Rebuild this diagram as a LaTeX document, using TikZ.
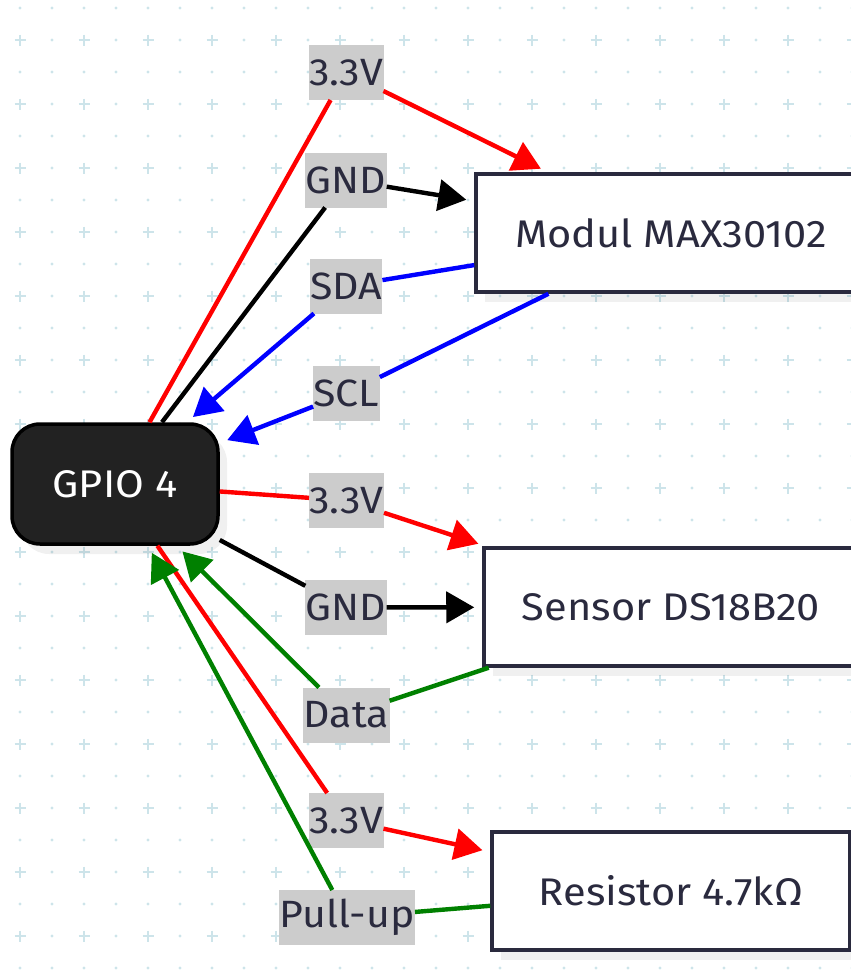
\documentclass[tikz,border=0pt]{standalone}
\usepackage{fontspec}
\setmainfont[FakeStretch=1.08]{Fira Sans}
\usetikzlibrary{arrows.meta,shadows}
\definecolor{gridc}{RGB}{205,228,234}
\definecolor{navy}{RGB}{42,42,62}
\definecolor{lblgray}{RGB}{204,204,204}
\definecolor{gpiofill}{RGB}{34,34,34}
\definecolor{wgreen}{RGB}{0,128,0}
\tikzset{
  sh/.style={drop shadow={shadow xshift=9pt,shadow yshift=-10pt,fill=black,opacity=0.06}},
  box/.style={draw=navy,line width=3.5pt,fill=white,minimum height=118pt,text=navy,
    font=\fontsize{38.5}{42}\selectfont,sh},
  gpiobox/.style={draw=black,line width=3.5pt,fill=gpiofill,rounded corners=28pt,
    minimum width=206pt,minimum height=120pt,text=white,font=\fontsize{38.5}{42}\selectfont,sh},
  lbl/.style={fill=lblgray,text=navy,inner xsep=0.5pt,inner ysep=0pt,minimum height=55pt,
    outer sep=0pt,font=\fontsize{38}{42}\selectfont},
  wire/.style={line width=4.4pt},
  arr/.style={-{Triangle[length=28pt,width=31pt]},shorten >=8pt}
}
\begin{document}
\begin{tikzpicture}[x=1pt,y=-1pt]
\useasboundingbox (0,0) rectangle (851,970);
% background grid
\foreach \i in {0,...,26}{
  \foreach \j in {0,...,30}{
    \fill[gridc] ({20+32*\i},{8+32*\j}) circle (1.6pt);
  }
}
\foreach \i in {0,...,13}{
  \foreach \j in {0,...,14}{
    \draw[gridc,line width=2.2pt] ({20+64*\i-5.5},{40+64*\j}) -- ({20+64*\i+5.5},{40+64*\j});
    \draw[gridc,line width=2.2pt] ({20+64*\i},{40+64*\j-5.5}) -- ({20+64*\i},{40+64*\j+5.5});
  }
}
% main nodes
\node[gpiobox] (gpio) at (115,484) {GPIO 4};
\node[box,minimum width=390pt] (max) at (671,233) {Modul MAX30102};
\node[box,minimum width=374pt] (sensor) at (671,607) {Sensor DS18B20};
\node[box,minimum width=358pt] (res) at (671,891) {Resistor 4.7kΩ};
% labels
\node[lbl] (l1) at (346,72.5) {3.3V};
\node[lbl] (l2) at (346,180) {GND};
\node[lbl] (l3) at (346,286) {SDA};
\node[lbl] (l4) at (346.5,393.5) {SCL};
\node[lbl] (l5) at (346.5,500.5) {3.3V};
\node[lbl] (l6) at (346,607.5) {GND};
\node[lbl] (l7) at (346.5,715) {Data};
\node[lbl] (l8) at (346,820.5) {3.3V};
\node[lbl] (l9) at (347,917.5) {Pull-up};
% connectors
\draw[red,wire] (gpio) -- (l1);
\draw[red,wire,arr] (l1) -- (max);
\draw[black,wire] (gpio) -- (l2);
\draw[black,wire,arr] (l2) -- (max);
\draw[blue,wire] (max) -- (l3);
\draw[blue,wire,arr] (l3) -- (gpio);
\draw[blue,wire] (max) -- (l4);
\draw[blue,wire,arr] (l4) -- (gpio);
\draw[red,wire] (gpio) -- (l5);
\draw[red,wire,arr] (l5) -- (sensor);
\draw[black,wire] (gpio) -- (l6);
\draw[black,wire,arr] (l6) -- (sensor);
\draw[wgreen,wire] (sensor) -- (l7);
\draw[wgreen,wire,arr] (l7) -- (gpio);
\draw[red,wire] (gpio) -- (l8);
\draw[red,wire,arr] (l8) -- (res);
\draw[wgreen,wire] (res) -- (l9);
\draw[wgreen,wire,arr] (l9) -- (gpio);
\end{tikzpicture}
\end{document}
